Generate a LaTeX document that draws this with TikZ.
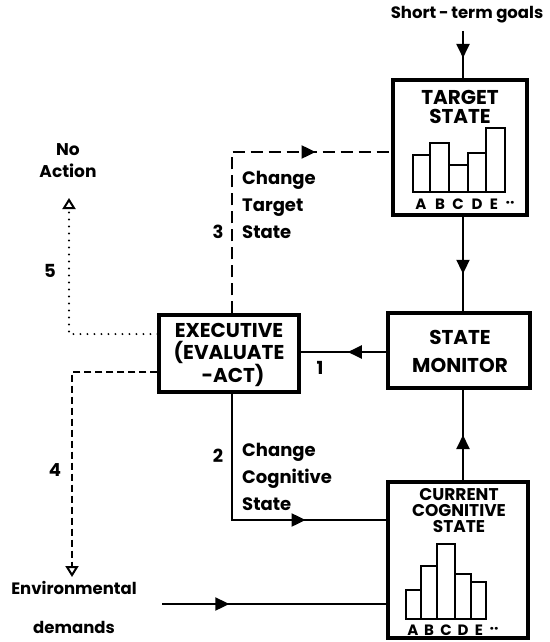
\documentclass[tikz,border=0pt]{standalone}
\usepackage{fontspec}
\setmainfont{Poppins}
\usetikzlibrary{arrows.meta,decorations.markings}
\begin{document}
\begin{tikzpicture}[x=1pt,y=-1pt,
  box/.style={draw, line width=3.2pt, inner sep=0pt},
  title/.style={font=\bfseries\fontsize{20}{19}\selectfont, align=center, inner sep=0pt},
  conn/.style={line width=2pt},
  longdash/.style={conn, dash pattern=on 12pt off 6pt},
  shortdash/.style={conn, dash pattern=on 7pt off 4pt},
  dotline/.style={line width=2.2pt, dash pattern=on 0pt off 7pt, line cap=round},
  mid/.style={postaction={decorate}, decoration={markings,
      mark=at position #1 with {\arrow{Triangle[length=14pt,width=13pt]}}}},
  opentip/.style={-{Triangle[open,length=11pt,width=13pt,line width=2pt]}},
  lbl/.style={font=\bfseries\fontsize{18}{27}\selectfont, align=left, anchor=west, inner sep=0pt},
  num/.style={font=\bfseries\fontsize{18}{20}\selectfont, inner sep=0pt},
  letter/.style={font=\bfseries\fontsize{15}{16}\selectfont, inner sep=0pt},
  bar/.style={draw, line width=2.2pt},
]
\useasboundingbox (0,0) rectangle (549,642);

% ---- boxes ----
\node[box, minimum width=134pt, minimum height=135pt] (target) at (460,147.5) {};
\node[box, minimum width=142pt, minimum height=75pt] (monitor) at (459,350.5) {};
\node[box, minimum width=140pt, minimum height=77pt] (exec) at (229,353.5) {};
\node[box, minimum width=140pt, minimum height=156pt] (current) at (458,560) {};

% ---- box titles ----
\node[title] (targettitle) at (460,107) {TARGET\\STATE};
\node[title, font=\bfseries\fontsize{20}{28}\selectfont] (monitortitle) at (460,351) {STATE\\MONITOR};
\node[title, font=\bfseries\fontsize{20}{21.5}\selectfont] (exectitle) at (229,355) {EXECUTIVE\\(EVALUATE\\\hspace*{8pt}-ACT)};
\node[title, font=\bfseries\fontsize{17}{16}\selectfont] (currenttitle) at (459,511) {CURRENT\\COGNITIVE\\STATE};

% ---- bar charts ----
\draw[bar] (413,192) rectangle (430,155);
\draw[bar] (430,192) rectangle (449,143);
\draw[bar] (449,192) rectangle (468,165);
\draw[bar] (468,192) rectangle (486,153);
\draw[bar] (486,192) rectangle (505,128);
\foreach \l/\x in {A/421,B/440,C/458,D/477,E/494}
  \node[letter] (t\l) at (\x,204) {\l};
\node[letter] (tdots) at (510,204) {··};

\draw[bar] (406,619) rectangle (421,590);
\draw[bar] (421,619) rectangle (437,566);
\draw[bar] (437,619) rectangle (455,544);
\draw[bar] (455,619) rectangle (471,574);
\draw[bar] (471,619) rectangle (486,582);
\foreach \l/\x in {A/413,B/429,C/446,D/463,E/479}
  \node[letter] (c\l) at (\x,630) {\l};
\node[letter] (cdots) at (494,630) {··};

% ---- outside texts ----
\node[font=\bfseries\fontsize{16.5}{18}\selectfont, inner sep=0pt] (goals) at (467,15) {Short\,-\,term goals};
\node[font=\bfseries\fontsize{17}{22}\selectfont, align=center, inner sep=0pt] (noaction) at (68,161) {No\\Action};
\node[font=\bfseries\fontsize{16.5}{39}\selectfont, align=center, inner sep=0pt] (env) at (74,607) {Environmental\\demands};

% ---- solid connectors ----
\draw[conn, mid=0.55] (463,31) -- (463,80);
\draw[conn, mid=0.6] (463,215) -- (463,313);
\draw[conn, mid=0.5] (463,482) -- (463,388);
\draw[conn, mid=0.45] (monitor.west |- 0,352) -- (exec.east |- 0,352);
\draw[conn, mid=200pt] (exec.south -| 232,0) |- (current.west |- 0,520);
\draw[conn, mid=0.3] (162,604) -- (current.west |- 0,604);

% ---- executive outputs ----
\draw[longdash, mid=245pt] (exec.north -| 232,0) |- (target.west |- 0,152);
\coordinate (end4) at (72,577);
\coordinate (end5) at (69,198);
\draw[shortdash, opentip] (exec.west |- 0,372) -| (end4);
\draw[dotline] (exec.west |- 0,334) -| (69,207);
\draw[conn, opentip, line cap=butt] (69,208) -- (end5);

% ---- labels ----
\node[num] (n1) at (320,368) {1};
\node[num] (n2) at (218,456) {2};
\node[num] (n3) at (218,232) {3};
\node[num] (n4) at (55,470) {4};
\node[num] (n5) at (50,271) {5};
\node[lbl] (l3) at (242,205) {Change\\Target\\State};
\node[lbl] (l2) at (242,477) {Change\\Cognitive\\State};
\end{tikzpicture}
\end{document}
